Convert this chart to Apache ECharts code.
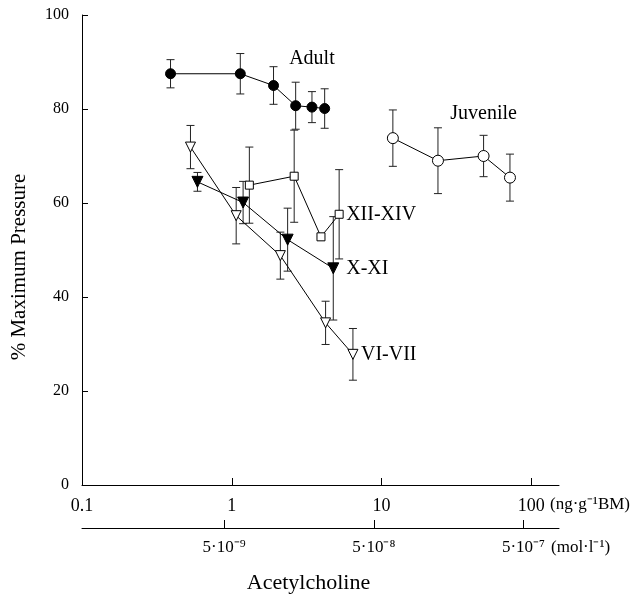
<!DOCTYPE html>
<html>
<head>
<meta charset="utf-8">
<script src="https://cdn.jsdelivr.net/npm/echarts@6/dist/echarts.min.js"></script>
<style>
  html, body { margin: 0; padding: 0; background: #fff; }
  #chart { width: 643px; height: 599px; }
</style>
</head>
<body>
<div id="chart"></div>
<script>
// dose in ng/g BM, response in % of maximum pressure, err = half length of bar
var adultX = [0.39, 1.14, 1.9, 2.67, 3.43, 4.17];
var adultY = [87.5, 87.5, 85.0, 80.7, 80.4, 80.1];
var adultErr = [3.0, 4.3, 4.0, 5.0, 3.3, 4.2];

var juvX = [11.9, 23.8, 48, 72];
var juvY = [73.8, 69.0, 70.0, 65.4];
var juvErr = [6.0, 7.0, 4.4, 5.0];

var xiiX = [1.31, 2.61, 3.94, 5.21];
var xiiY = [63.8, 65.7, 52.8, 57.6];
var xiiErr = [8.1, 9.8, 0, 9.5];

var xX = [0.59, 1.19, 2.36, 4.76];
var xY = [64.5, 60.1, 52.2, 46.1];
var xErr = [2.0, 4.5, 6.7, 11];

var viX = [0.53, 1.07, 2.11, 4.23, 6.44];
var viY = [71.9, 57.3, 48.8, 34.5, 27.8];
var viErr = [4.6, 6.0, 5.0, 4.6, 5.5];

var massTicks = [0.1, 1, 10, 100];
var massLabels = ['0.1', '1', '10', '100'];
// lower axis: ticks at 1,10,100 of (mol/l) / 5e-9
var molTicks = [1, 10, 100];
var molLabels = ['5·10⁻⁹', '5·10⁻⁸', '5·10⁻⁷'];
var yTicks = [0, 20, 40, 60, 80, 100];

var FONT = 'Liberation Serif';

function pts(xs, ys) {
  return xs.map(function (x, i) { return [x, ys[i]]; });
}
function bars(xs, ys, es) {
  return xs.map(function (x, i) { return [x, ys[i] - es[i], ys[i] + es[i]]; });
}

function renderErr(params, api) {
  var x = api.value(0);
  var p1 = api.coord([x, api.value(1)]);
  var p2 = api.coord([x, api.value(2)]);
  var w = 4;
  var st = { stroke: '#222', lineWidth: 1 };
  return {
    type: 'group',
    children: [
      { type: 'line', shape: { x1: p1[0], y1: p1[1], x2: p2[0], y2: p2[1] }, style: st },
      { type: 'line', shape: { x1: p1[0] - w, y1: p1[1], x2: p1[0] + w, y2: p1[1] }, style: st },
      { type: 'line', shape: { x1: p2[0] - w, y1: p2[1], x2: p2[0] + w, y2: p2[1] }, style: st }
    ]
  };
}

function errSeries(name, data) {
  return {
    name: name + ' err',
    type: 'custom',
    renderItem: renderErr,
    data: data,
    encode: { x: 0, y: [1, 2] },
    z: 1,
    silent: true
  };
}

var lineStyle = { color: '#000', width: 1 };
var labelFont = { fontFamily: FONT, fontSize: 20, color: '#000' };

function lineSeries(name, data, symbol, size, filled, rotate, extra) {
  var s = {
    name: name,
    type: 'line',
    data: data,
    symbol: symbol,
    symbolSize: size,
    symbolRotate: rotate || 0,
    lineStyle: lineStyle,
    itemStyle: {
      color: filled ? '#000' : '#fff',
      borderColor: '#000',
      borderWidth: 1
    },
    z: 3,
    animation: false
  };
  return Object.assign(s, extra || {});
}

var adultData = pts(adultX, adultY);
adultData[4] = {
  value: adultData[4],
  label: Object.assign({ show: true, formatter: 'Adult', position: 'top', distance: 33 }, labelFont)
};
var juvData = pts(juvX, juvY);
juvData[2] = {
  value: juvData[2],
  label: Object.assign({ show: true, formatter: 'Juvenile', position: 'top', distance: 26 }, labelFont)
};

function endLabel(dist) {
  return {
    endLabel: Object.assign({ show: true, formatter: '{a}', distance: dist }, labelFont)
  };
}

var chart = echarts.init(document.getElementById('chart'));
chart.setOption({
  backgroundColor: '#fff',
  animation: false,
  grid: { left: 82, right: 84, top: 15, bottom: 112 },
  xAxis: [
    {
      type: 'log',
      logBase: 10,
      min: 0.1,
      max: 153,
      axisLine: { onZero: false, lineStyle: { color: '#000', width: 1 } },
      axisTick: { inside: true, length: 7, customValues: massTicks, lineStyle: { color: '#000' } },
      axisLabel: {
        customValues: massTicks,
        margin: 12,
        fontFamily: FONT, fontSize: 18, color: '#000',
        formatter: function (v) { return massLabels[massTicks.indexOf(v)]; }
      },
      splitLine: { show: false }
    },
    {
      type: 'log',
      logBase: 10,
      position: 'bottom',
      offset: 43,
      min: 0.1126,
      max: 172.6,
      axisLine: { onZero: false, lineStyle: { color: '#000', width: 1 } },
      axisTick: { inside: true, length: 8, customValues: molTicks, lineStyle: { color: '#000' } },
      axisLabel: {
        customValues: molTicks,
        margin: 11,
        fontFamily: FONT, fontSize: 17, color: '#000',
        formatter: function (v) { return molLabels[molTicks.indexOf(v)]; }
      },
      splitLine: { show: false },
      name: 'Acetylcholine',
      nameLocation: 'middle',
      nameGap: 44,
      nameTextStyle: { fontFamily: FONT, fontSize: 22, color: '#000', padding: [0, 24, 0, 0] }
    }
  ],
  yAxis: {
    type: 'value',
    min: 0,
    max: 100,
    interval: 20,
    name: '% Maximum Pressure',
    nameLocation: 'middle',
    nameGap: 52,
    nameTextStyle: { fontFamily: FONT, fontSize: 21, color: '#000', padding: [0, 34, 0, 0] },
    axisLine: { show: true, lineStyle: { color: '#000', width: 1 } },
    axisTick: { show: true, inside: true, length: 6, lineStyle: { color: '#000' } },
    axisLabel: {
      margin: 13, fontFamily: FONT, fontSize: 16, color: '#000',
      formatter: function (v) { return yTicks.indexOf(v) >= 0 ? String(v) : ''; }
    },
    splitLine: { show: false }
  },
  graphic: [
    { type: 'text', left: 550, top: 496, style: { text: '(ng·g⁻¹BM)', fontFamily: FONT, fontSize: 17, fill: '#000' } },
    { type: 'text', left: 551, top: 539, style: { text: '(mol·l⁻¹)', fontFamily: FONT, fontSize: 17, fill: '#000' } }
  ],
  series: [
    errSeries('Adult', bars(adultX, adultY, adultErr)),
    errSeries('Juvenile', bars(juvX, juvY, juvErr)),
    errSeries('XII-XIV', bars(xiiX, xiiY, xiiErr)),
    errSeries('X-XI', bars(xX, xY, xErr)),
    errSeries('VI-VII', bars(viX, viY, viErr)),
    lineSeries('Adult', adultData, 'circle', 10, true, 0),
    lineSeries('Juvenile', juvData, 'circle', 11, false, 0),
    lineSeries('XII-XIV', pts(xiiX, xiiY), 'rect', 8, false, 0, endLabel(7)),
    lineSeries('X-XI', pts(xX, xY), 'triangle', 11, true, 180, endLabel(13)),
    lineSeries('VI-VII', pts(viX, viY), 'triangle', 10, false, 180, endLabel(8))
  ]
});
</script>
</body>
</html>
